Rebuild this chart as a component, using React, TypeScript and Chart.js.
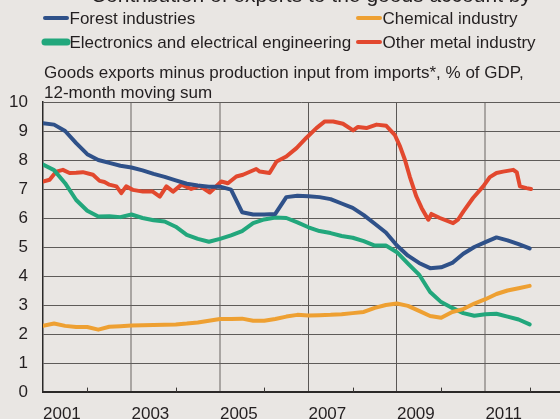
import React, { useEffect, useRef } from 'react';
import { Chart, registerables } from 'chart.js';

Chart.register(...registerables);

// Quarterly observation points (decimal years)
const periods = [
  2001.0, 2001.25, 2001.5, 2001.75,
  2002.0, 2002.25, 2002.5, 2002.75,
  2003.0, 2003.25, 2003.5, 2003.75,
  2004.0, 2004.25, 2004.5, 2004.75,
  2005.0, 2005.25, 2005.5, 2005.75,
  2006.0, 2006.25, 2006.5, 2006.75,
  2007.0, 2007.25, 2007.5, 2007.75,
  2008.0, 2008.25, 2008.5, 2008.75,
  2009.0, 2009.25, 2009.5, 2009.75,
  2010.0, 2010.25, 2010.5, 2010.75,
  2011.0, 2011.25, 2011.5, 2011.75,
  2012.0,
];

const forestIndustries = [
  9.27, 9.22, 9.0, 8.58, 8.2, 8.0, 7.9, 7.8, 7.74, 7.64, 7.52, 7.42,
  7.3, 7.18, 7.12, 7.08, 7.08, 6.98, 6.2, 6.12, 6.12, 6.14, 6.72, 6.77,
  6.75, 6.72, 6.65, 6.5, 6.35, 6.1, 5.8, 5.5, 5.05, 4.7, 4.45, 4.27,
  4.3, 4.45, 4.77, 5.0, 5.17, 5.33, 5.23, 5.1, 4.95,
];

const chemicalIndustry = [
  2.28, 2.36, 2.28, 2.24, 2.24, 2.15, 2.25, 2.27, 2.29, 2.3, 2.31, 2.32,
  2.33, 2.36, 2.4, 2.46, 2.52, 2.52, 2.53, 2.46, 2.46, 2.52, 2.6, 2.66,
  2.64, 2.65, 2.66, 2.68, 2.72, 2.76, 2.9, 3.0, 3.05, 2.97, 2.8, 2.62,
  2.56, 2.76, 2.86, 3.05, 3.2, 3.38, 3.5, 3.58, 3.66,
];

const electronics = [
  7.84, 7.65, 7.2, 6.62, 6.25, 6.05, 6.06, 6.03, 6.12, 6.0, 5.92, 5.88,
  5.7, 5.42, 5.28, 5.18, 5.28, 5.4, 5.55, 5.82, 5.95, 6.02, 6.0, 5.85,
  5.68, 5.55, 5.48, 5.38, 5.32, 5.2, 5.05, 5.05, 4.82, 4.43, 4.05, 3.45,
  3.1, 2.9, 2.72, 2.63, 2.68, 2.7, 2.6, 2.5, 2.33,
];

// Other metal industry is read at its own (denser) points
const otherMetalPeriods = [
  2001.0, 2001.15, 2001.3, 2001.45, 2001.6, 2001.75, 2001.9,
  2002.13, 2002.28, 2002.39, 2002.5, 2002.66, 2002.77, 2002.88,
  2003.03, 2003.26, 2003.48, 2003.64, 2003.79, 2003.94,
  2004.13, 2004.35, 2004.54, 2004.77,
  2005.03, 2005.18, 2005.37, 2005.52, 2005.82, 2005.9,
  2006.12, 2006.28, 2006.5, 2006.73, 2006.95,
  2007.18, 2007.37, 2007.56, 2007.78,
  2008.01, 2008.12, 2008.31, 2008.54, 2008.76, 2008.95,
  2009.07, 2009.18, 2009.29, 2009.44, 2009.56, 2009.71, 2009.78, 2009.97,
  2010.27, 2010.38, 2010.5, 2010.72, 2010.95,
  2011.1, 2011.25, 2011.4, 2011.63, 2011.71, 2011.78, 2011.93, 2012.03,
];
const otherMetal = [
  7.26, 7.32, 7.6, 7.66, 7.55, 7.56, 7.58,
  7.49, 7.28, 7.24, 7.15, 7.09, 6.86, 7.09,
  6.97, 6.91, 6.91, 6.74, 7.09, 6.91,
  7.15, 7.0, 7.11, 6.88,
  7.26, 7.2, 7.43, 7.49, 7.69, 7.6,
  7.55, 7.95, 8.12, 8.41, 8.76,
  9.1, 9.33, 9.33, 9.25,
  9.02, 9.14, 9.1, 9.22, 9.18, 8.87,
  8.47, 8.01, 7.43, 6.74, 6.34, 5.94, 6.14, 6.0,
  5.82, 5.94, 6.22, 6.69, 7.09,
  7.41, 7.55, 7.6, 7.66, 7.57, 7.09, 7.03, 7.0,
];

const seriesLabels = [
  'Forest industries',
  'Chemical industry',
  'Electronics and electrical engineering',
  'Other metal industry',
];
const titleText = 'Contribution of exports to the goods account by';
const subtitleLines = [
  'Goods exports minus production input from imports*, % of GDP,',
  '12-month moving sum',
];
const labeledYears = [2001, 2003, 2005, 2007, 2009, 2011];

const BLUE = '#2f5189';
const ORANGE = '#eea032';
const GREEN = '#22a77c';
const RED = '#e2482e';
const TEXT = '#231f20';
const BG = '#e9e6e3';
const FONT = '"Liberation Sans", Arial, sans-serif';

const toPoints = (xs: number[], vals: number[]) => vals.map((v, i) => ({ x: xs[i], y: v }));

const decorPlugin = {
  id: 'decor',
  beforeDraw(chart: any) {
    const { ctx, width, height } = chart;
    ctx.save();
    ctx.fillStyle = BG;
    ctx.fillRect(0, 0, width, height);
    ctx.restore();
  },
  afterDraw(chart: any) {
    const { ctx } = chart;
    ctx.save();
    // clipped title
    ctx.fillStyle = TEXT;
    ctx.font = `21px ${FONT}`;
    ctx.textAlign = 'right';
    ctx.textBaseline = 'alphabetic';
    ctx.fillText(titleText, 531, 2);

    // legend
    const items = [
      { label: seriesLabels[0], color: BLUE, w: 4, x: 44, y: 18 },
      { label: seriesLabels[1], color: ORANGE, w: 4, x: 357, y: 18 },
      { label: seriesLabels[2], color: GREEN, w: 7, x: 44, y: 42 },
      { label: seriesLabels[3], color: RED, w: 4, x: 357, y: 42 },
    ];
    ctx.font = `17px ${FONT}`;
    ctx.textAlign = 'left';
    items.forEach((it) => {
      ctx.strokeStyle = it.color;
      ctx.lineWidth = it.w;
      ctx.lineCap = 'round';
      ctx.beginPath();
      ctx.moveTo(it.x + 1, it.y);
      ctx.lineTo(it.x + 23, it.y);
      ctx.stroke();
      ctx.fillStyle = TEXT;
      ctx.fillText(it.label, it.x + 25.5, it.y + 6);
    });

    // subtitle
    ctx.fillText(subtitleLines[0], 44, 77.5);
    ctx.fillText(subtitleLines[1], 44, 97.5);

    // minor tick marks (even years) inside plot
    const xs = chart.scales.x;
    const bottom = chart.chartArea.bottom;
    ctx.strokeStyle = '#3a3735';
    ctx.lineWidth = 1;
    xs.ticks.forEach((t: any) => {
      if (t.value % 2 === 0) {
        const px = Math.round(xs.getPixelForValue(t.value)) + 0.5;
        ctx.beginPath();
        ctx.moveTo(px, bottom);
        ctx.lineTo(px, bottom - 4);
        ctx.stroke();
      }
    });
    ctx.restore();
  },
};

export default function App() {
  const canvasRef = useRef<HTMLCanvasElement | null>(null);

  useEffect(() => {
    document.body.style.margin = '0';
    const canvas = canvasRef.current;
    if (!canvas) return;
    const chart = new Chart(canvas, {
      type: 'line',
      data: {
        datasets: [
          { label: seriesLabels[0], data: toPoints(periods, forestIndustries), borderColor: BLUE },
          { label: seriesLabels[1], data: toPoints(periods, chemicalIndustry), borderColor: ORANGE },
          { label: seriesLabels[2], data: toPoints(periods, electronics), borderColor: GREEN },
          { label: seriesLabels[3], data: toPoints(otherMetalPeriods, otherMetal), borderColor: RED },
        ],
      },
      options: {
        responsive: false,
        animation: false,
        events: [],
        layout: { padding: { top: 102, left: 0, right: 0, bottom: 0 } },
        elements: {
          point: { radius: 0 },
          line: { borderWidth: 4, tension: 0, borderJoinStyle: 'round', borderCapStyle: 'round' },
        },
        plugins: {
          legend: { display: false },
          tooltip: { enabled: false },
          title: { display: false },
        },
        scales: {
          x: {
            type: 'linear',
            min: 2001,
            max: 2012.686,
            afterFit: (s: any) => {
              s.height = 27;
            },
            ticks: {
              stepSize: 1,
              includeBounds: false,
              autoSkip: false,
              maxRotation: 0,
              minRotation: 0,
              align: 'start',
              padding: 12,
              color: TEXT,
              font: { family: FONT, size: 17 },
              callback: (v: any) => (labeledYears.includes(Number(v)) ? String(v) : ''),
            },
            grid: {
              drawTicks: false,
              color: (c: any) => {
                const v = c.tick ? c.tick.value : 0;
                if (v === 2007 || v === 2009) return '#5a5755';
                if (v === 2003 || v === 2005 || v === 2011) return '#a9a5a2';
                return 'rgba(0,0,0,0)';
              },
              lineWidth: (c: any) => {
                const v = c.tick ? c.tick.value : 0;
                if (v === 2003 || v === 2005 || v === 2011) return 2;
                return 1;
              },
            },
            border: { color: '#2b2928', width: 2 },
          },
          y: {
            min: 0,
            max: 10,
            afterFit: (s: any) => {
              s.width = 43;
            },
            ticks: {
              stepSize: 1,
              padding: 15,
              color: TEXT,
              font: { family: FONT, size: 17 },
            },
            grid: { drawTicks: false, color: '#5e5b59', lineWidth: 1 },
            border: { color: '#2b2928', width: 1.5 },
          },
        },
      },
      plugins: [decorPlugin],
    });
    return () => chart.destroy();
  }, []);

  return (
    <div style={{ position: 'absolute', left: 0, top: 0, width: 560, height: 419, background: BG, overflow: 'hidden' }}>
      <canvas ref={canvasRef} width={560} height={419} style={{ display: 'block' }} />
    </div>
  );
}
